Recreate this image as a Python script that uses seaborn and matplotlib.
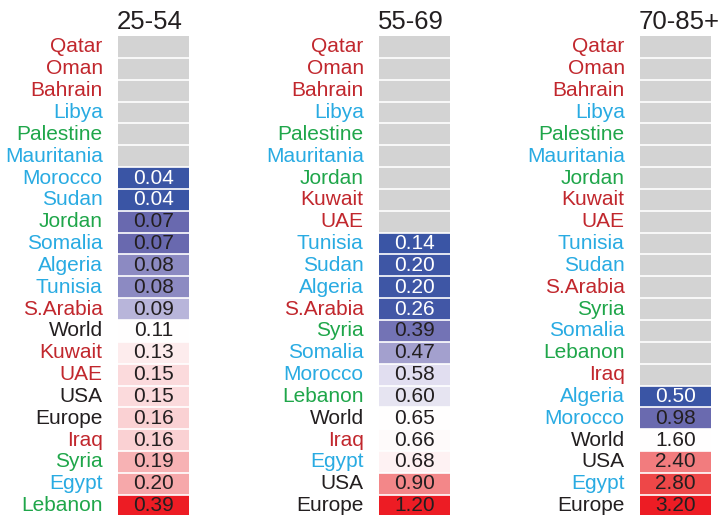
import numpy as np
import pandas as pd
import seaborn as sns
import matplotlib.pyplot as plt
from matplotlib.colors import LinearSegmentedColormap, ListedColormap

# panel data (NaN = no data, drawn grey)
titles = ['25-54', '55-69', '70-85+']

countries_2554 = ['Qatar', 'Oman', 'Bahrain', 'Libya', 'Palestine', 'Mauritania',
                  'Morocco', 'Sudan', 'Jordan', 'Somalia', 'Algeria', 'Tunisia',
                  'S.Arabia', 'World', 'Kuwait', 'UAE', 'USA', 'Europe', 'Iraq',
                  'Syria', 'Egypt', 'Lebanon']
values_2554 = [np.nan, np.nan, np.nan, np.nan, np.nan, np.nan,
               0.04, 0.04, 0.07, 0.07, 0.08, 0.08,
               0.09, 0.11, 0.13, 0.15, 0.15, 0.16, 0.16,
               0.19, 0.20, 0.39]

countries_5569 = ['Qatar', 'Oman', 'Bahrain', 'Libya', 'Palestine', 'Mauritania',
                  'Jordan', 'Kuwait', 'UAE', 'Tunisia', 'Sudan', 'Algeria',
                  'S.Arabia', 'Syria', 'Somalia', 'Morocco', 'Lebanon', 'World',
                  'Iraq', 'Egypt', 'USA', 'Europe']
values_5569 = [np.nan, np.nan, np.nan, np.nan, np.nan, np.nan,
               np.nan, np.nan, np.nan, 0.14, 0.20, 0.20,
               0.26, 0.39, 0.47, 0.58, 0.60, 0.65,
               0.66, 0.68, 0.90, 1.20]

countries_7085 = ['Qatar', 'Oman', 'Bahrain', 'Libya', 'Palestine', 'Mauritania',
                  'Jordan', 'Kuwait', 'UAE', 'Tunisia', 'Sudan', 'S.Arabia',
                  'Syria', 'Somalia', 'Lebanon', 'Iraq', 'Algeria', 'Morocco',
                  'World', 'USA', 'Egypt', 'Europe']
values_7085 = [np.nan] * 16 + [0.50, 0.98, 1.60, 2.40, 2.80, 3.20]

gulf = ['Qatar', 'Oman', 'Bahrain', 'Kuwait', 'UAE', 'S.Arabia', 'Iraq']
north_africa = ['Libya', 'Mauritania', 'Morocco', 'Sudan', 'Somalia', 'Algeria',
                'Tunisia', 'Egypt']
levant = ['Palestine', 'Jordan', 'Syria', 'Lebanon']

region_colors = {}
for c in gulf:
    region_colors[c] = '#C1272D'
for c in north_africa:
    region_colors[c] = '#29ABE2'
for c in levant:
    region_colors[c] = '#1FA64A'

# diverging scale: -1 (panel min) .. 0 (World) .. +1 (panel max)
blue_nodes = [(0.0, '#ffffff'), (0.10, '#e5e3f1'), (0.14, '#e1def0'), (0.29, '#b7b4d9'),
              (0.35, '#a5a2cf'), (0.43, '#8b89c2'), (0.51, '#7474b5'), (0.57, '#6a6aaf'),
              (0.76, '#4257a6'), (1.0, '#3a55a5')]
red_nodes = [(0.0, '#ffffff'), (0.15, '#fbd9db'), (0.30, '#f7aeb0'), (0.50, '#f27d7f'),
             (0.75, '#ee4748'), (1.0, '#ed1c24')]
nodes = [((1 - t) / 2, c) for t, c in reversed(blue_nodes)] + \
        [((1 + t) / 2, c) for t, c in red_nodes[1:]]
div_cmap = LinearSegmentedColormap.from_list('div', nodes)

plt.rcParams['font.family'] = ['Liberation Sans', 'DejaVu Sans']

fig = plt.figure(figsize=(7.24, 5.15), dpi=100)
lefts = [118 / 724, 379 / 724, 640 / 724]

panels = [(countries_2554, values_2554), (countries_5569, values_5569),
          (countries_7085, values_7085)]

for title, left, (countries, values) in zip(titles, lefts, panels):
    ax = fig.add_axes([left, -0.003, 71 / 724, 0.933])
    vals = np.array(values, dtype=float)
    world = vals[countries.index('World')]
    vmin, vmax = np.nanmin(vals), np.nanmax(vals)
    score = np.where(vals < world, -(world - vals) / (world - vmin),
                     (vals - world) / (vmax - world))
    score = np.where(vals == world, 0.0, score)

    df = pd.DataFrame({'v': score}, index=countries)
    nan_mask = np.isnan(vals)[:, None]
    labels = np.array([['' if np.isnan(v) else f'{v:.2f}'] for v in vals])

    sns.heatmap(np.ones((len(vals), 1)), mask=~nan_mask,
                cmap=ListedColormap(['#d3d3d3']), cbar=False, ax=ax)
    sns.heatmap(df, mask=nan_mask, cmap=div_cmap, vmin=-1, vmax=1,
                annot=labels, fmt='', cbar=False, annot_kws={'size': 15},
                xticklabels=False, yticklabels=countries, ax=ax)
    # thin white row separators
    ax.hlines(np.arange(1, len(vals)), 0, 1, color='white', lw=1.2)

    # text colour: white on dark blue cells
    shown = score[~np.isnan(vals)]
    for txt, s in zip(ax.texts, shown):
        txt.set_color('white' if s < -0.65 else '#231F20')

    ax.tick_params(axis='y', length=0, pad=11, labelsize=15, rotation=0)
    for lab in ax.get_yticklabels():
        lab.set_color(region_colors.get(lab.get_text(), '#231F20'))
    ax.set_ylabel('')
    ax.set_title(title, loc='left', fontsize=18.5, pad=5, color='#231F20',
                 x=-0.02)

fig.savefig('out.png', dpi=100)
